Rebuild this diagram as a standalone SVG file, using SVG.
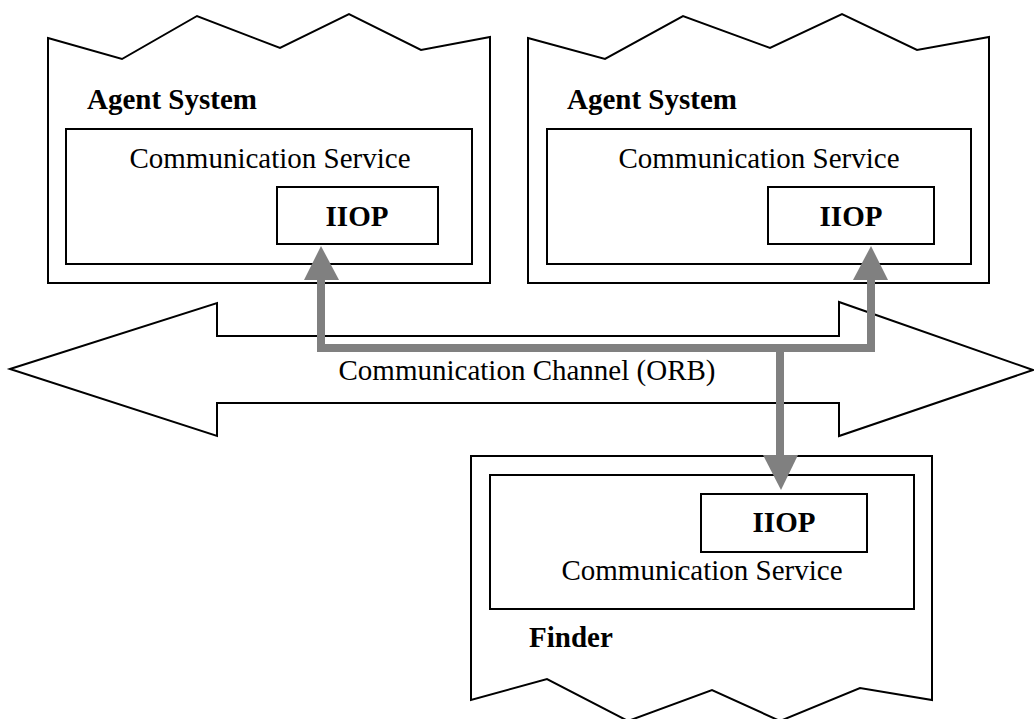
<svg xmlns="http://www.w3.org/2000/svg" width="1034" height="719" viewBox="0 0 1034 719">
<style>
.shape{fill:#fff;stroke:#000;stroke-width:2}
.t{font-family:"Liberation Serif","Times New Roman",serif;font-size:29px;fill:#000}
.b{font-weight:bold}
.m{text-anchor:middle}
.conn{fill:none;stroke:#808080;stroke-width:8;stroke-linejoin:miter}
.head{fill:#808080;stroke:none}
</style>
<rect width="1034" height="719" fill="#fff"/>
<g id="channel">
<polygon class="shape" points="10,369 217,303 217,336 839,336 839,302 1033,370 839,436 839,403 217,403 217,436"/>
<text class="t m" x="527" y="380">Communication Channel (ORB)</text>
</g>
<g id="agent-system-left">
<polygon class="shape" points="48,38 122,59 197,16 280,48 349,14 421,50 490,37 490,283 48,283"/>
<text class="t b" x="87" y="109">Agent System</text>
<rect class="shape" x="66" y="129" width="406" height="135"/>
<text class="t m" x="270" y="168">Communication Service</text>
<rect class="shape" x="277" y="187" width="161" height="57"/>
<text class="t b m" x="357" y="226">IIOP</text>
</g>
<g id="agent-system-right">
<polygon class="shape" points="528,38 605,59 683,16 770,48 842,14 917,50 989,37 989,283 528,283"/>
<text class="t b" x="567" y="109">Agent System</text>
<rect class="shape" x="547" y="129" width="424" height="135"/>
<text class="t m" x="759" y="168">Communication Service</text>
<rect class="shape" x="768" y="187" width="166" height="57"/>
<text class="t b m" x="851" y="226">IIOP</text>
</g>
<g id="finder">
<polygon class="shape" points="471,456 932,456 932,700 860,688 780,721 712,690 628,721 547,679 471,700"/>
<rect class="shape" x="490" y="475" width="424" height="134"/>
<rect class="shape" x="701" y="494" width="166" height="58"/>
<text class="t b m" x="784" y="532">IIOP</text>
<text class="t m" x="702" y="580">Communication Service</text>
<text class="t b" x="529" y="647">Finder</text>
</g>
<g id="connectors">
<polyline class="conn" points="321,278 321,348 871,348 871,278"/>
<line class="conn" x1="780" y1="348" x2="780" y2="457"/>
<polygon class="head" points="304,280 339,280 321,246"/>
<polygon class="head" points="853,280 888,280 871,246"/>
<polygon class="head" points="763,455 798,455 781,490"/>
</g>
</svg>
